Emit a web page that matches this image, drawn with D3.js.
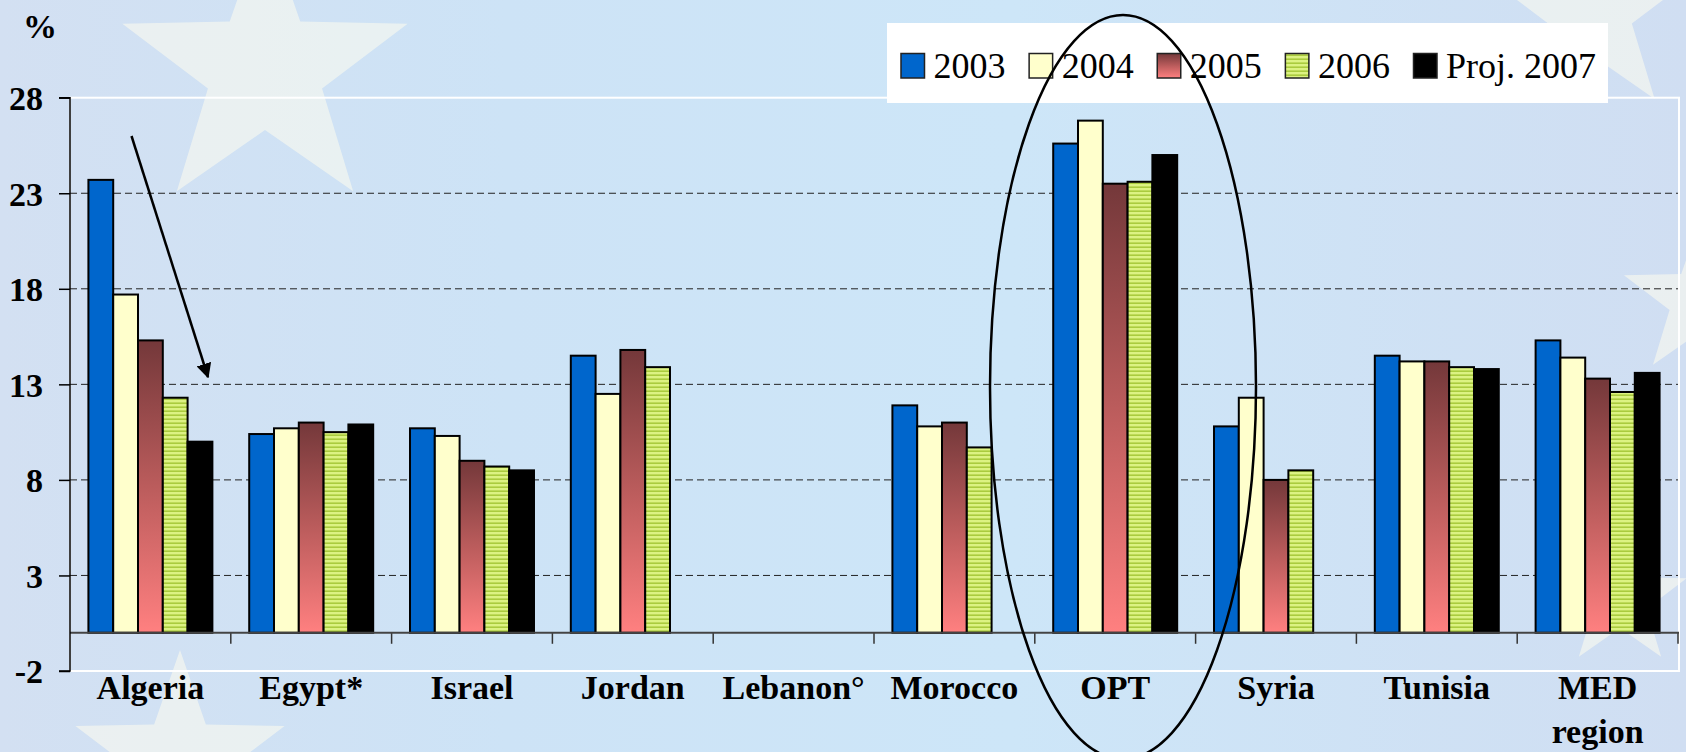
<!DOCTYPE html>
<html>
<head>
<meta charset="utf-8">
<script src="https://cdn.jsdelivr.net/npm/d3@7"></script>
<style>
  html, body { margin: 0; padding: 0; background: #cfdef2; }
  svg { display: block; }
</style>
</head>
<body>
<svg id="chart" width="1686" height="752"></svg>
<script>
// ---- data ----
const categories = ["Algeria", "Egypt*", "Israel", "Jordan", "Lebanon°", "Morocco", "OPT", "Syria", "Tunisia", "MED region"];
const series = ["2003", "2004", "2005", "2006", "Proj. 2007"];
const v2003 = [23.7, 10.4, 10.7, 14.5, null, 11.9, 25.6, 10.8, 14.5, 15.3];
const v2004 = [17.7, 10.7, 10.3, 12.5, null, 10.8, 26.8, 12.3, 14.2, 14.4];
const v2005 = [15.3, 11.0, 9.0, 14.8, null, 11.0, 23.5, 8.0, 14.2, 13.3];
const v2006 = [12.3, 10.5, 8.7, 13.9, null, 9.7, 23.6, 8.5, 13.9, 12.6];
const v2007 = [10.0, 10.9, 8.5, null, null, null, 25.0, null, 13.8, 13.6];
const yTicks = [-2, 3, 8, 13, 18, 23, 28];
const gridTicks = [3, 8, 13, 18, 23];

const seriesValues = [v2003, v2004, v2005, v2006, v2007];
const fills = ["#0066cc", "#ffffcc", "url(#grad2005)", "url(#pat2006)", "#000000"];

const W = 1686, H = 752;
const plotL = 70, plotR = 1678, plotT = 97.7, plotB = 671;
const FONT = "'Times New Roman', 'Liberation Serif', Times, serif";

const svg = d3.select("#chart");
const defs = svg.append("defs");

// background gradient
const bg = defs.append("linearGradient").attr("id", "bgGrad").attr("x1", 0).attr("y1", 0).attr("x2", 1).attr("y2", 0);
bg.append("stop").attr("offset", 0).attr("stop-color", "#d3e0f2");
bg.append("stop").attr("offset", 0.3).attr("stop-color", "#cde3f6");
bg.append("stop").attr("offset", 0.6).attr("stop-color", "#cde6f8");
bg.append("stop").attr("offset", 1).attr("stop-color", "#d0def2");

// 2005 gradient
const g5 = defs.append("linearGradient").attr("id", "grad2005").attr("x1", 0).attr("y1", 0).attr("x2", 0).attr("y2", 1);
g5.append("stop").attr("offset", 0).attr("stop-color", "#74383a");
g5.append("stop").attr("offset", 0.5).attr("stop-color", "#bb5c5c");
g5.append("stop").attr("offset", 1).attr("stop-color", "#ff8080");

// 2006 stripe pattern
const p6 = defs.append("pattern").attr("id", "pat2006").attr("patternUnits", "userSpaceOnUse")
  .attr("width", 8).attr("height", 4);
p6.append("rect").attr("width", 8).attr("height", 4).attr("fill", "#dcf282");
p6.append("rect").attr("y", 2.4).attr("width", 8).attr("height", 1.6).attr("fill", "#aacb3e");

// background
svg.append("rect").attr("width", W).attr("height", H).attr("fill", "url(#bgGrad)");

// faint stars (background decoration)
function starPath(cx, cy, R, r) {
  const pts = [];
  for (let i = 0; i < 10; i++) {
    const a = -Math.PI / 2 + i * Math.PI / 5;
    const rad = i % 2 === 0 ? R : r;
    pts.push([cx + rad * Math.cos(a), cy + rad * Math.sin(a)]);
  }
  return "M" + pts.map(p => p.join(",")).join("L") + "Z";
}
const starSpecs = [[265, 70, 150, 60], [1590, 10, 110, 44], [1700, 300, 80, 32], [180, 760, 110, 44], [1620, 600, 70, 28]];
svg.append("g").selectAll("path").data(starSpecs).join("path")
  .attr("d", d => starPath(d[0], d[1], d[2], d[3]))
  .attr("fill", "#fffdee").attr("opacity", 0.55);

// scales
const y = d3.scaleLinear().domain([-2, 28]).range([plotB, plotT]);
const x0 = d3.scaleBand().domain(categories).range([plotL, plotR]).padding(0);
const step = x0.bandwidth();
const x1 = d3.scaleBand().domain(series).range([step * 0.1145, step * 0.8855]).padding(0);

// plot area white border
svg.append("rect").attr("x", plotL).attr("y", plotT).attr("width", plotR - plotL + 1).attr("height", plotB - plotT)
  .attr("fill", "none").attr("stroke", "#ffffff").attr("stroke-width", 2);

// gridlines
svg.append("g").selectAll("line").data(gridTicks).join("line")
  .attr("x1", plotL).attr("x2", plotR)
  .attr("y1", d => y(d)).attr("y2", d => y(d))
  .attr("stroke", "#222").attr("stroke-width", 1)
  .attr("stroke-dasharray", "7,4");

// bars
const barData = [];
categories.forEach((c, i) => {
  series.forEach((s, j) => {
    const v = seriesValues[j][i];
    if (v !== null && v !== undefined) barData.push({ c, s, v, j });
  });
});
svg.append("g").selectAll("rect").data(barData).join("rect")
  .attr("x", d => x0(d.c) + x1(d.s))
  .attr("y", d => y(Math.max(0, d.v)))
  .attr("width", x1.bandwidth())
  .attr("height", d => Math.abs(y(d.v) - y(0)))
  .attr("fill", d => fills[d.j])
  .attr("stroke", "#000").attr("stroke-width", 2);

// x axis at zero
const xAxis = d3.axisBottom(x0).tickSize(11).tickFormat("");
const xg = svg.append("g").attr("transform", `translate(0,${y(0)})`).call(xAxis);
xg.select(".domain").remove();
xg.selectAll(".tick line")
  .attr("transform", `translate(${step / 2},0)`)
  .attr("stroke", "#333").attr("stroke-width", 1.5);
svg.append("line").attr("x1", plotL).attr("x2", plotR + 1).attr("y1", y(0)).attr("y2", y(0))
  .attr("stroke", "#444").attr("stroke-width", 2);

// category labels
const labelG = svg.append("g").attr("font-family", FONT).attr("font-weight", "bold").attr("font-size", 34)
  .attr("text-anchor", "middle").attr("fill", "#000");
categories.forEach(c => {
  const words = c === "MED region" ? ["MED", "region"] : [c];
  words.forEach((w, k) => {
    labelG.append("text").attr("x", x0(c) + step / 2).attr("y", 699 + k * 43.5).text(w);
  });
});

// y axis
const yAxis = d3.axisLeft(y).tickValues(yTicks).tickSize(11).tickPadding(16).tickFormat(d => String(d));
const yg = svg.append("g").attr("transform", `translate(${plotL},0)`).call(yAxis);
yg.select(".domain").attr("stroke", "#000").attr("stroke-width", 1.5).attr("d", `M-11,${plotT}H0V${plotB}H-11`);
yg.selectAll(".tick line").attr("stroke", "#000").attr("stroke-width", 1.5);
yg.selectAll(".tick text").attr("font-family", FONT).attr("font-weight", "bold").attr("font-size", 34)
  .attr("fill", "#000").attr("dy", "0.35em");

// % label
svg.append("text").attr("x", 40).attr("y", 38).attr("text-anchor", "middle")
  .attr("font-family", FONT).attr("font-weight", "bold").attr("font-size", 34).text("%");

// legend
const legend = svg.append("g");
legend.append("rect").attr("x", 887).attr("y", 23).attr("width", 721).attr("height", 80).attr("fill", "#ffffff");
const legX = d3.scalePoint().domain(series).range([901, 1413.5]);
series.forEach((s, j) => {
  const gx = legX(s);
  legend.append("rect").attr("x", gx).attr("y", 53.5).attr("width", 23.5).attr("height", 24.5)
    .attr("fill", fills[j]).attr("stroke", "#222").attr("stroke-width", 1.5);
  legend.append("text").attr("x", gx + 32.5).attr("y", 77.5)
    .attr("font-family", FONT).attr("font-size", 36).attr("fill", "#000").text(s);
});

// arrow annotation
defs.append("marker").attr("id", "arrowHead").attr("viewBox", "0 0 10 10")
  .attr("refX", 9).attr("refY", 5).attr("markerWidth", 6).attr("markerHeight", 6)
  .attr("markerUnits", "strokeWidth").attr("orient", "auto")
  .append("path").attr("d", "M0,0L10,5L0,10Z").attr("fill", "#000");
svg.append("line").attr("x1", 131.5).attr("y1", 136).attr("x2", 208).attr("y2", 377)
  .attr("stroke", "#000").attr("stroke-width", 2.5).attr("marker-end", "url(#arrowHead)");

// ellipse annotation
svg.append("ellipse").attr("cx", 1123).attr("cy", 387).attr("rx", 133).attr("ry", 372)
  .attr("fill", "none").attr("stroke", "#000").attr("stroke-width", 2.5);
</script>
</body>
</html>
